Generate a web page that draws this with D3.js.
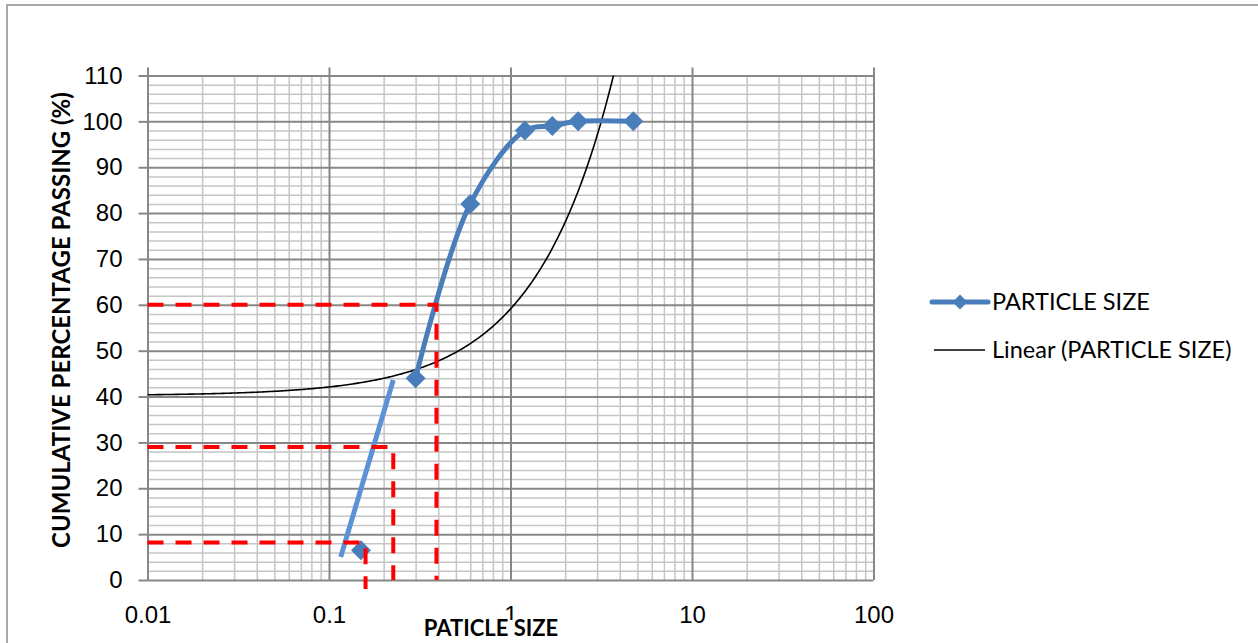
<!DOCTYPE html>
<meta charset="utf-8">
<script src="https://d3js.org/d3.v7.min.js"></script>
<style>
    body { margin: 0; background: #fff; }
    svg { font-family: Lato, "Open Sans", sans-serif; }
    .grid-minor line { stroke: #c6c6c6; stroke-width: 1.5px; }
    .grid-major line { stroke: #878787; stroke-width: 2px; }
    .grid-minor path, .grid-major path { stroke-width: 0; }
    .axis path { stroke-width: 0; }
    .axis line { stroke: #878787; stroke-width: 2px; }
    .axis text { fill: #000; font-size: 24px; }
</style>
<svg width="1258" height="643"></svg>
<script>

    // sieve analysis readings
    var sieveSizes = [0.15, 0.3, 0.6, 1.2, 1.7, 2.36, 4.75];
    var percentPassing = [6.5, 44, 82, 98, 99, 100, 100];

    // linear trendline: y = slope * x + intercept
    var trendSlope = 18.9;
    var trendIntercept = 40.2;

    // D10 / D30 / D60 guide lines
    var guideSizes = [0.159, 0.226, 0.391];
    var guidePercents = [8.2, 29, 60];

    // hand drawn extension line
    var sketchSizes = [0.116, 0.226];
    var sketchPercents = [5, 43.6];

    var xTicks = [0.01, 0.1, 1, 10, 100];
    var yTicks = [0, 10, 20, 30, 40, 50, 60, 70, 80, 90, 100, 110];

    var seriesName = "PARTICLE SIZE";
    var trendName = "Linear (PARTICLE SIZE)";
    var xTitle = "PATICLE SIZE";
    var yTitle = "CUMULATIVE PERCENTAGE PASSING (%)";

    var svg = d3.select("svg");

    // chart frame (runs off the right and bottom edge)
    svg.append("rect")
        .attr("x", 7).attr("y", 5)
        .attr("width", 1300).attr("height", 700)
        .attr("fill", "none")
        .attr("stroke", "#8c8c8c")
        .attr("stroke-width", 1.5);

    var x = d3.scaleLog()
        .domain([0.01, 100])
        .range([147.5, 873.5]);

    var y = d3.scaleLinear()
        .domain([0, 110])
        .range([580, 75.5]);

    var width = x.range()[1] - x.range()[0],
        height = y.range()[0] - y.range()[1];

    var minorX = [];
    xTicks.slice(0, -1).forEach(function (t) {
        for (var k = 2; k < 10; k++) minorX.push(t * k);
    });
    var minorY = d3.range(0, 111, 2).filter(function (v) { return v % 10 !== 0; });

    var plot = svg.append("g");

    plot.append("g")
        .attr("class", "grid-minor")
        .attr("transform", "translate(0," + y(0) + ")")
        .call(d3.axisBottom(x).tickValues(minorX).tickSize(-height).tickFormat(""));

    plot.append("g")
        .attr("class", "grid-minor")
        .attr("transform", "translate(" + x(0.01) + ",0)")
        .call(d3.axisLeft(y).tickValues(minorY).tickSize(-width).tickFormat(""));

    plot.append("g")
        .attr("class", "grid-major")
        .attr("transform", "translate(0," + y(0) + ")")
        .call(d3.axisBottom(x).tickValues(xTicks).tickSize(-(height + 8)).tickFormat(""));

    plot.append("g")
        .attr("class", "grid-major")
        .attr("transform", "translate(" + x(0.01) + ",0)")
        .call(d3.axisLeft(y).tickValues(yTicks).tickSize(-width).tickFormat(""));

    // axes labels
    plot.append("g")
        .attr("class", "axis")
        .attr("transform", "translate(" + x(0.01) + ",0)")
        .call(d3.axisLeft(y).tickValues(yTicks).tickSize(9).tickPadding(16));

    plot.append("g")
        .attr("class", "axis")
        .attr("transform", "translate(0," + y(0) + ")")
        .call(d3.axisBottom(x).tickValues(xTicks).tickSize(0).tickPadding(26)
            .tickFormat(function (d) { return String(d); }));

    // clip for the trend line
    svg.append("clipPath").attr("id", "plotClip")
        .append("rect")
        .attr("x", x.range()[0]).attr("y", y.range()[1])
        .attr("width", width).attr("height", height);

    var trendPts = d3.range(-2, 2.0001, 0.01).map(function (e) {
        var s = Math.pow(10, e);
        return [s, trendSlope * s + trendIntercept];
    });

    var line = d3.line()
        .x(function (d) { return x(d[0]); })
        .y(function (d) { return y(d[1]); });

    plot.append("path")
        .datum(trendPts)
        .attr("clip-path", "url(#plotClip)")
        .attr("fill", "none")
        .attr("stroke", "#000")
        .attr("stroke-width", 1.6)
        .attr("d", line);

    var points = sieveSizes.map(function (s, i) { return [s, percentPassing[i]]; });

    // the smoothed series line is only drawn from the 0.3 mm reading upward
    plot.append("path")
        .datum(points.slice(1))
        .attr("fill", "none")
        .attr("stroke", "#4a7ebb")
        .attr("stroke-width", 5)
        .attr("stroke-linejoin", "round")
        .attr("d", line.curve(d3.curveCatmullRom.alpha(0.5)));

    line.curve(d3.curveLinear);

    plot.append("path")
        .datum(sketchSizes.map(function (s, i) { return [s, sketchPercents[i]]; }))
        .attr("fill", "none")
        .attr("stroke", "#5b93d6")
        .attr("stroke-width", 5)
        .attr("d", line);

    var diamond = d3.symbol().type(d3.symbolSquare).size(200);

    plot.selectAll(".marker")
        .data(points)
        .enter()
        .append("path")
        .attr("class", "marker")
        .attr("d", diamond)
        .attr("fill", "#4a7ebb")
        .attr("transform", function (d) {
            return "translate(" + x(d[0]) + "," + y(d[1]) + ") rotate(45)";
        });

    // red dashed guides
    plot.selectAll(".guide")
        .data(guideSizes)
        .enter()
        .append("path")
        .attr("class", "guide")
        .attr("fill", "none")
        .attr("stroke", "#ff0000")
        .attr("stroke-width", 4)
        .attr("stroke-dasharray", "16,12")
        .attr("d", function (d, i) {
            var bottom = i === 0 ? y(0) + 9 : y(0);
            return "M" + x(0.01) + "," + y(guidePercents[i]) +
                "H" + x(d) + "V" + bottom;
        });

    // axis titles
    var xt = svg.append("g");
    var xtText = xt.append("text")
        .attr("x", 491)
        .attr("y", 636)
        .attr("text-anchor", "middle")
        .attr("font-size", 22)
        .attr("font-weight", "bold")
        .text(xTitle);
    var bb = xtText.node().getBBox();
    xt.insert("rect", "text")
        .attr("x", bb.x - 2).attr("y", 620)
        .attr("width", bb.width + 4).attr("height", 30)
        .attr("fill", "#fff");

    svg.append("text")
        .attr("transform", "translate(70,320) rotate(-90)")
        .attr("text-anchor", "middle")
        .attr("font-size", 24)
        .attr("font-weight", "bold")
        .text(yTitle);

    // legend
    var legend = svg.append("g");
    legend.append("line")
        .attr("x1", 932).attr("x2", 988)
        .attr("y1", 302).attr("y2", 302)
        .attr("stroke", "#4a7ebb")
        .attr("stroke-width", 5)
        .attr("stroke-linecap", "round");
    legend.append("path")
        .attr("d", d3.symbol().type(d3.symbolSquare).size(110))
        .attr("fill", "#4a7ebb")
        .attr("transform", "translate(960,302) rotate(45)");
    legend.append("text")
        .attr("x", 992).attr("y", 302)
        .attr("dy", "0.35em")
        .attr("font-size", 23.5)
        .text(seriesName);

    legend.append("line")
        .attr("x1", 934).attr("x2", 985)
        .attr("y1", 350).attr("y2", 350)
        .attr("stroke", "#000")
        .attr("stroke-width", 1.6);
    legend.append("text")
        .attr("x", 992).attr("y", 350)
        .attr("dy", "0.35em")
        .attr("font-size", 23.5)
        .text(trendName);

</script>
